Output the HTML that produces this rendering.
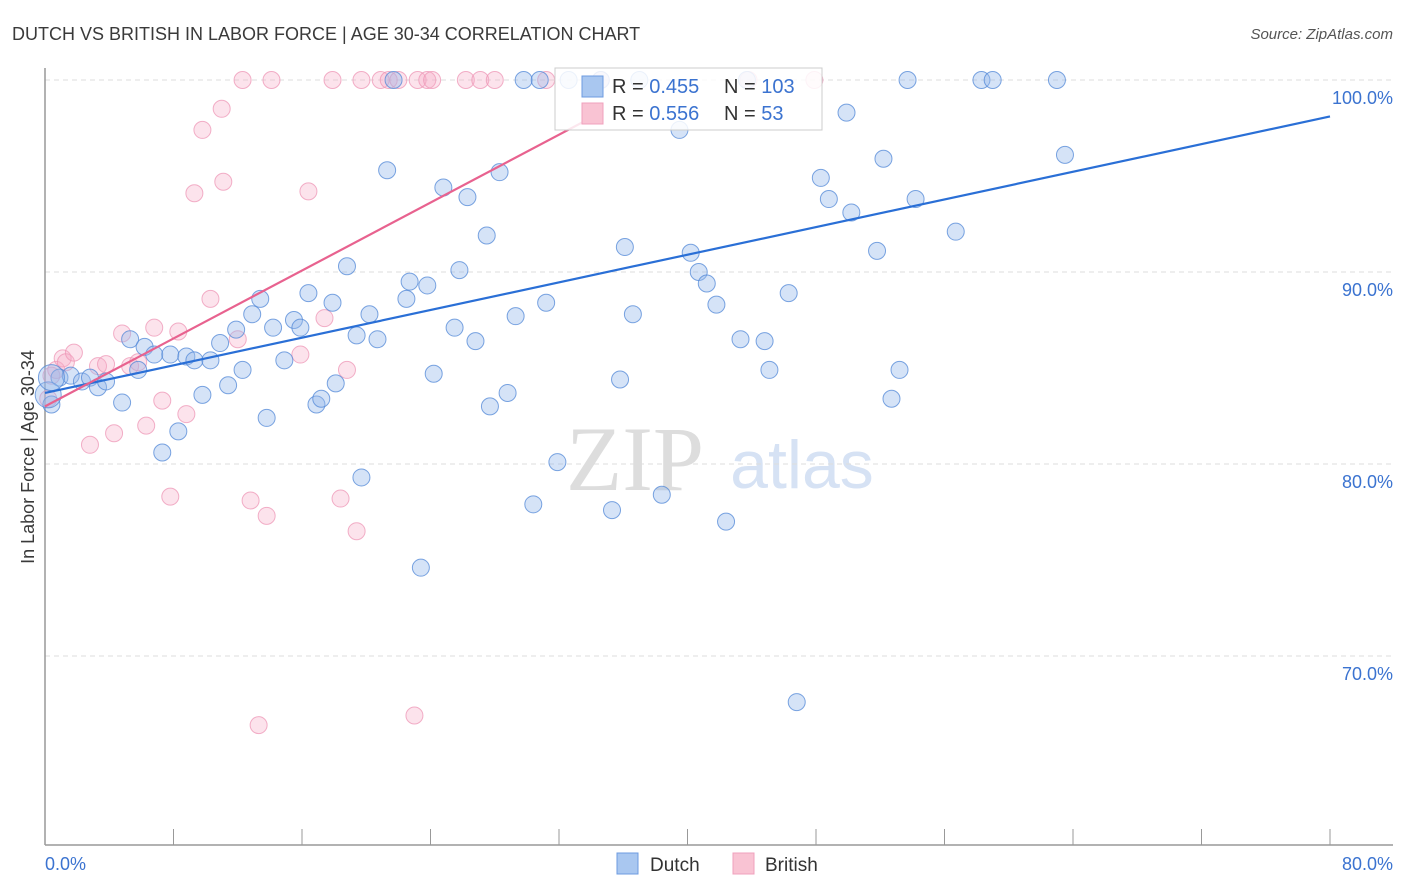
<!DOCTYPE html>
<html><head><meta charset="utf-8"><style>
body{margin:0;background:#fff;font-family:"Liberation Sans",sans-serif;}
svg{display:block}
</style></head><body>
<svg id="chart" width="1406" height="892" xmlns="http://www.w3.org/2000/svg">
<text x="12" y="40" font-size="18" fill="#3a3a3a">DUTCH VS BRITISH IN LABOR FORCE | AGE 30-34 CORRELATION CHART</text>
<text x="1393" y="39" font-size="15" fill="#555" font-style="italic" text-anchor="end">Source: ZipAtlas.com</text>
<text x="635" y="490" font-size="92" fill="#ddd" font-family="Liberation Serif,serif" text-anchor="middle">ZIP</text>
<text x="802" y="488" font-size="68" fill="#d6e2f4" text-anchor="middle">atlas</text>
<g id="grid"></g>
<g id="axes"></g>
<g id="pts"></g>
<g id="trend"></g>
<text transform="translate(34,457) rotate(-90)" font-size="18" fill="#3a3a3a" text-anchor="middle">In Labor Force | Age 30-34</text>
<g>
<rect x="555" y="68" width="267" height="62" fill="#fff" fill-opacity="0.85" stroke="#ccc"/>
<rect x="582" y="76" width="21" height="21" fill="#a9c7f0" stroke="#6d9be0"/>
<rect x="582" y="103" width="21" height="21" fill="#f9c3d3" stroke="#f0a0bc"/>
<text x="612" y="93" font-size="20" fill="#333">R = <tspan fill="#3b73d0">0.455</tspan></text>
<text x="724" y="93" font-size="20" fill="#333">N = <tspan fill="#3b73d0">103</tspan></text>
<text x="612" y="120" font-size="20" fill="#333">R = <tspan fill="#3b73d0">0.556</tspan></text>
<text x="724" y="120" font-size="20" fill="#333">N = <tspan fill="#3b73d0">  53</tspan></text>
</g>
<g>
<rect x="617" y="853" width="21" height="21" fill="#a9c7f0" stroke="#6d9be0"/>
<text x="650" y="871" font-size="19" fill="#333">Dutch</text>
<rect x="733" y="853" width="21" height="21" fill="#f9c3d3" stroke="#f0a0bc"/>
<text x="765" y="871" font-size="19" fill="#333">British</text>
</g>
</svg>
<script>
const yTicks=[100,90,80,70];
const xTickLabels=["0.0%","80.0%"];
const dutchX=[0.4,0.9,1.6,2.3,2.8,3.3,3.8,4.8,5.3,5.8,6.2,6.8,7.3,7.8,8.3,8.8,9.3,9.8,10.3,10.9,11.4,11.9,12.3,12.9,13.4,13.8,14.2,14.9,15.5,15.9,16.4,16.9,17.2,17.9,18.1,18.8,19.4,19.7,20.2,20.7,21.3,21.7,22.5,22.7,23.4,23.8,24.2,24.8,25.5,25.8,26.3,26.8,27.5,27.7,28.3,28.8,29.3,29.8,30.4,30.8,31.2,31.9,32.6,34.6,35.3,35.8,36.1,36.6,37.0,38.4,39.5,40.2,40.7,41.2,41.8,42.4,43.3,43.7,44.8,45.1,46.3,46.8,48.3,48.8,49.9,50.2,51.8,52.2,52.7,53.2,53.7,54.2,56.7,58.3,59.0,63.0,63.5];
const dutchY=[83.1,84.5,84.6,84.3,84.5,84.0,84.3,83.2,86.5,84.9,86.1,85.7,80.6,85.7,81.7,85.6,85.4,83.6,85.4,86.3,84.1,87.0,84.9,87.8,88.6,82.4,87.1,85.4,87.5,87.1,88.9,83.1,83.4,88.4,84.2,90.3,86.7,79.3,87.8,86.5,95.3,100,88.6,89.5,74.6,89.3,84.7,94.4,87.1,90.1,93.9,86.4,91.9,83.0,95.2,83.7,87.7,100,77.9,100,88.4,80.1,100,100,77.6,84.4,91.3,87.8,100,78.4,97.4,91.0,90.0,89.4,88.3,77.0,86.5,100,86.4,84.9,88.9,67.6,94.9,93.8,98.3,93.1,91.1,95.9,83.4,84.9,100,93.8,92.1,100,100,100,96.1];
const dutchBigX=[0.2,0.4];
const dutchBigY=[83.6,84.5];
const britX=[0.2,0.4,0.7,1.1,1.3,1.8,2.8,3.3,3.8,4.3,4.8,5.3,5.8,6.3,6.8,7.3,7.8,8.3,8.8,9.3,9.8,10.3,11.0,11.1,12.0,12.3,12.8,13.3,13.8,14.1,15.9,16.4,17.4,17.9,18.4,18.8,19.4,19.7,20.9,21.4,22.0,23.0,23.2,23.8,24.1,26.2,27.1,28.0,31.2,34.6,43.8,47.9];
const britY=[83.4,84.6,84.9,85.5,85.3,85.8,81.0,85.1,85.2,81.6,86.8,85.1,85.3,82.0,87.1,83.3,78.3,86.9,82.6,94.1,97.4,88.6,98.5,94.7,86.5,100,78.1,66.4,77.3,100,85.7,94.2,87.6,100,78.2,84.9,76.5,100,100,100,100,66.9,100,100,100,100,100,100,100,100,100,100];
const dutchTrend=[[0,83.7],[80,98.1]];
const britTrend=[[0,83.0],[34.6,98.3]];
const NS="http://www.w3.org/2000/svg";
const X0=45,X1=1330,YTOP=80,PXPER=19.2;
function sx(v){return X0+(X1-X0)*v/80;}
function sy(v){return YTOP+(100-v)*PXPER;}
function mk(tag,attrs,parent){const e=document.createElementNS(NS,tag);for(const k in attrs)e.setAttribute(k,attrs[k]);parent.appendChild(e);return e;}
const grid=document.getElementById('grid'),axes=document.getElementById('axes'),pts=document.getElementById('pts'),trend=document.getElementById('trend');
yTicks.forEach(t=>{
 const l=mk('line',{x1:X0,x2:1393,y1:sy(t),y2:sy(t),stroke:'#ddd','stroke-dasharray':'5,4'},grid);
 
 
 const tx=mk('text',{x:1393,y:sy(t)+24,'font-size':18,fill:'#3b73d0','text-anchor':'end'},grid);
 tx.textContent=t.toFixed(1)+'%';
 
 
});
const ya=mk('line',{x1:X0,x2:X0,y1:68,y2:845,stroke:'#999','stroke-width':1.5},axes);


const xa=mk('line',{x1:X0,x2:1393,y1:845,y2:845,stroke:'#999','stroke-width':1.5},axes);


for(let i=0;i<=10;i++){
 const tk=mk('line',{x1:sx(i*8),x2:sx(i*8),y1:829,y2:845,stroke:'#999'},axes);
 
 
}
[[0,'start'],[80,'end']].forEach((p,i)=>{
 const tx=mk('text',{x:i?1393:45,y:870,'font-size':18,fill:'#3b73d0','text-anchor':p[1]},axes);
 tx.textContent=xTickLabels[i];
 
 
});
function dot(x,y,r,cls){
 const blue=cls==='dutch';
 const c=mk('circle',{cx:sx(x),cy:sy(y),r:r,fill:blue?'rgba(150,185,235,0.4)':'rgba(245,170,198,0.33)',stroke:blue?'rgba(80,135,215,0.75)':'rgba(238,150,182,0.75)','stroke-width':1},pts);
 
 
}
britX.forEach((x,i)=>dot(x,britY[i],8.5,'british'));
dutchX.forEach((x,i)=>dot(x,dutchY[i],8.5,'dutch'));
dutchBigX.forEach((x,i)=>dot(x,dutchBigY[i],13,'dutch'));
const tl1=mk('line',{x1:sx(dutchTrend[0][0]),y1:sy(dutchTrend[0][1]),x2:sx(dutchTrend[1][0]),y2:sy(dutchTrend[1][1]),stroke:'#2a6fd6','stroke-width':2.2},trend);


const tl2=mk('line',{x1:sx(britTrend[0][0]),y1:sy(britTrend[0][1]),x2:sx(britTrend[1][0]),y2:sy(britTrend[1][1]),stroke:'#e8628f','stroke-width':2.2},trend);


</script>
</body></html>
